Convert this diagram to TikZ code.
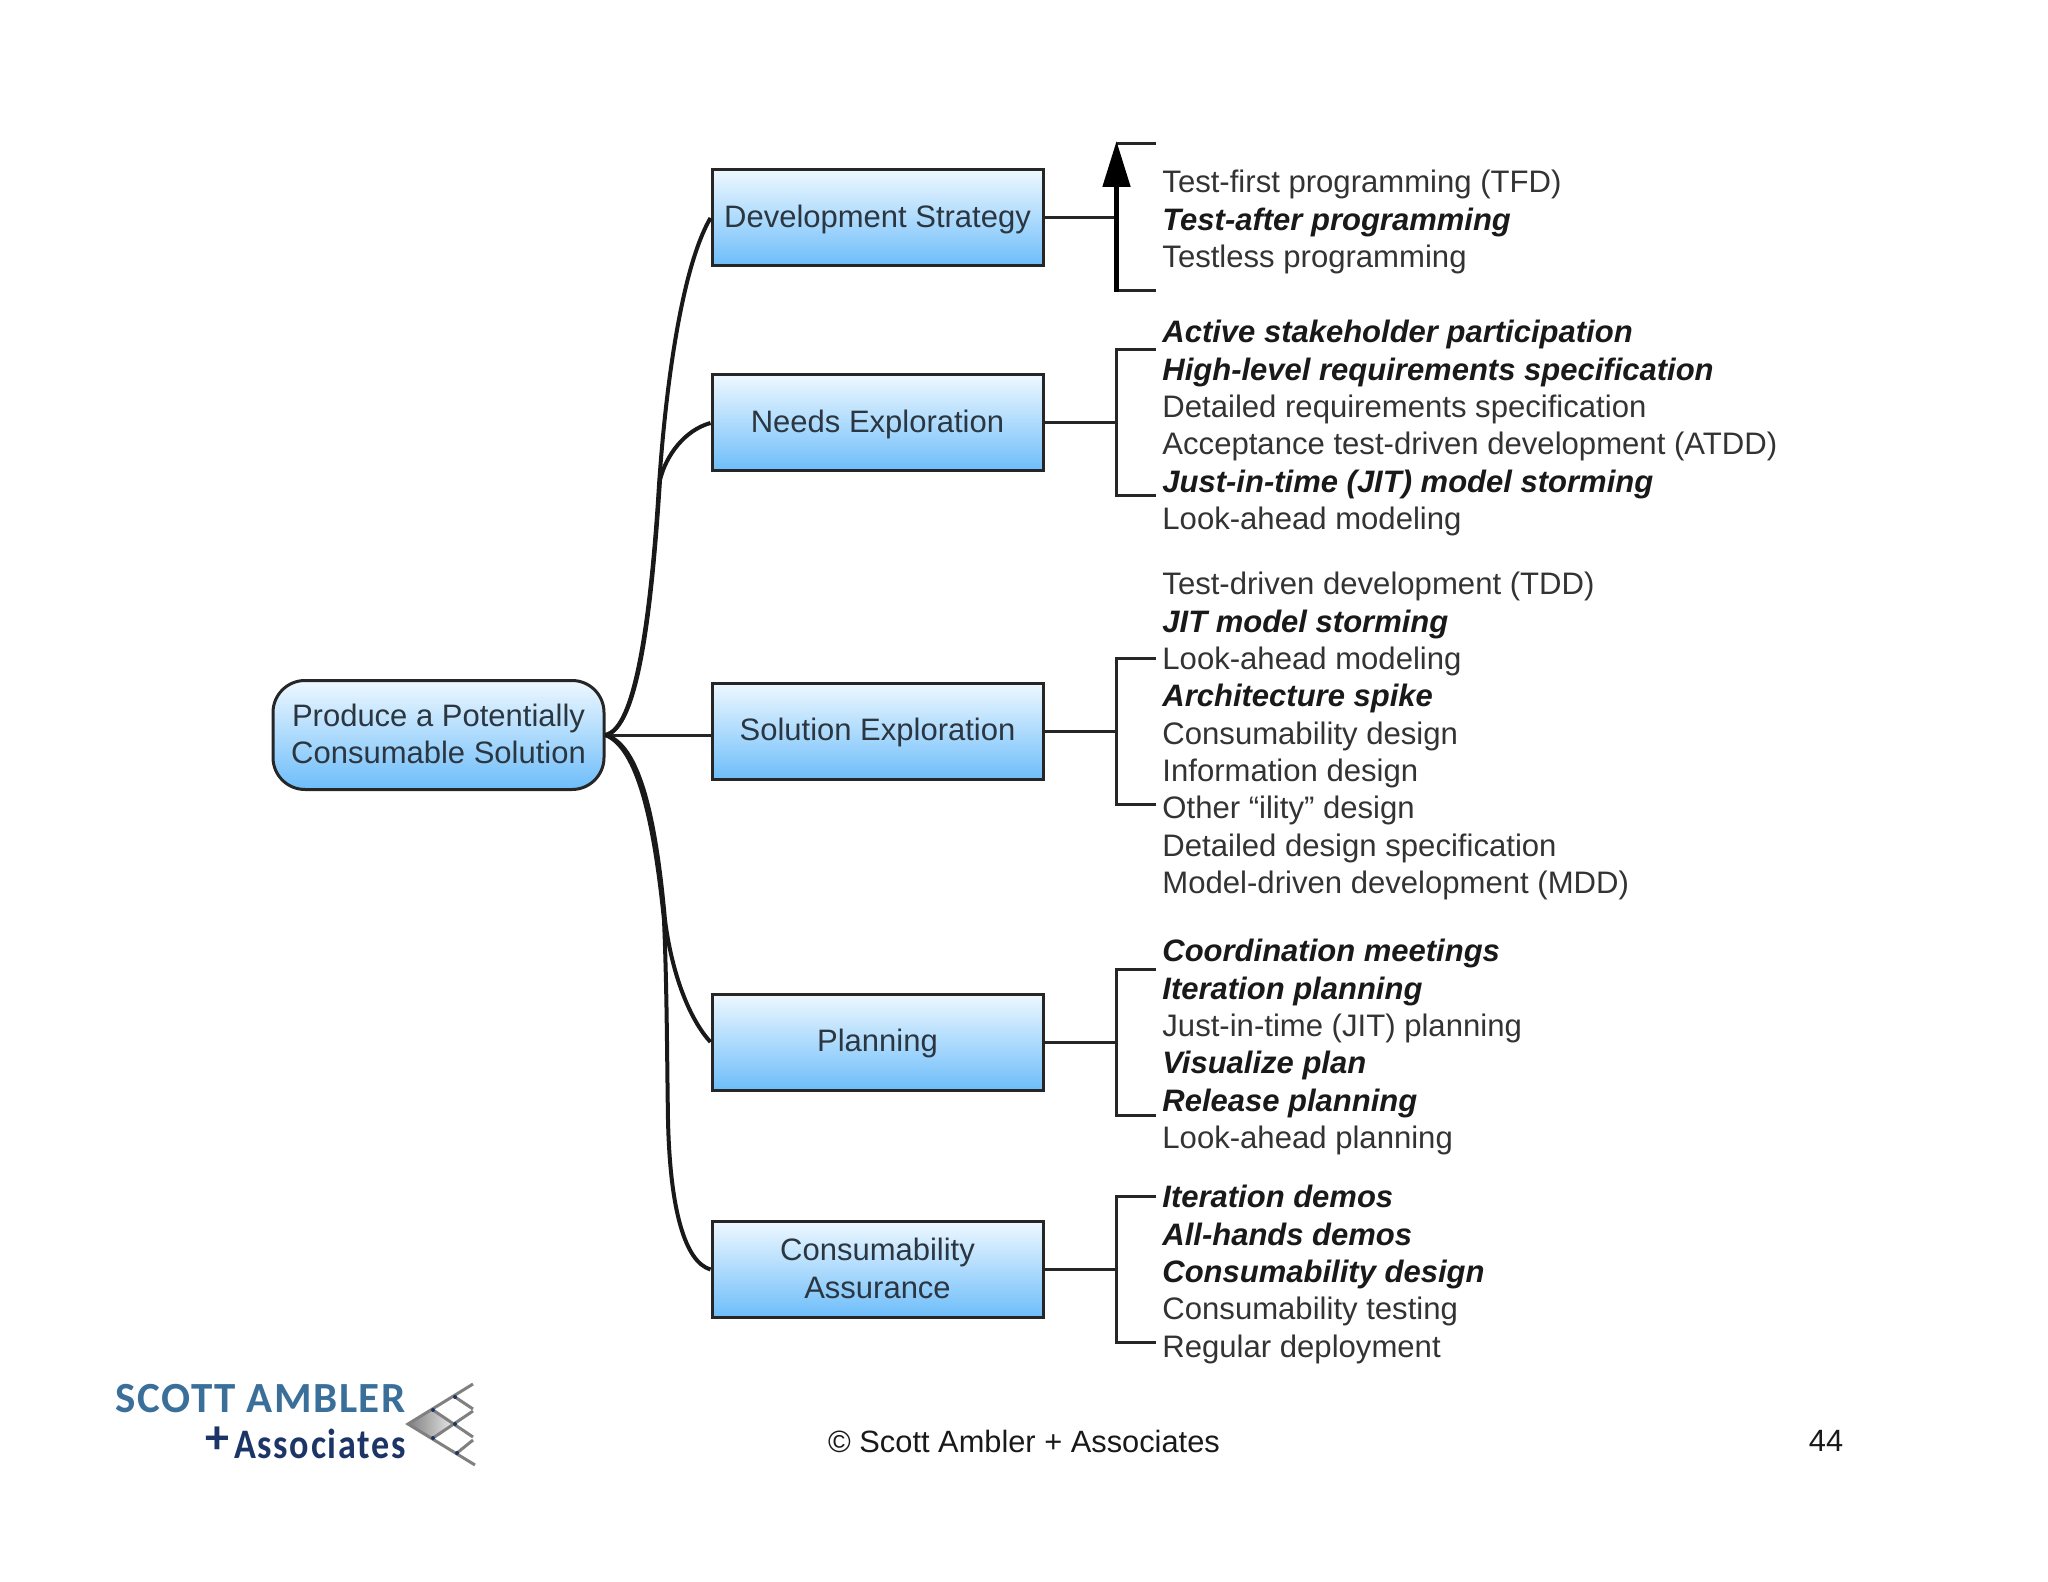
\documentclass[tikz,border=0pt]{standalone}
\usepackage{fontspec}
\setmainfont{Liberation Sans}
\newfontfamily\logofont[LetterSpace=3.5]{Carlito}
\newfontfamily\logoassocfont[FakeStretch=0.86,LetterSpace=4]{Carlito}
\usetikzlibrary{arrows.meta}
\definecolor{inktext}{HTML}{2B3640}
\definecolor{listtext}{HTML}{333333}
\definecolor{boxtop}{HTML}{EEF8FF}
\definecolor{boxbottom}{HTML}{6DBDFA}
\definecolor{logoblue}{HTML}{3A6F9A}
\definecolor{logonavy}{HTML}{1D3566}
\newcommand{\kp}[1]{{\fontsize{15.5}{18.67}\selectfont\bfseries\itshape\color{black!90}#1}}
\newcommand{\up}[1]{\raisebox{1.3pt}{#1}}
\tikzstyle{block} = [draw=black!85, line width=1.5pt, rectangle, top color=boxtop, bottom color=boxbottom, minimum width=165.5pt, minimum height=48pt, align=center, text=inktext, font=\fontsize{15.5}{18.6}\selectfont, inner sep=0pt]
\tikzstyle{oneline} = [block, text height=12.5pt, text depth=3.2pt]
\tikzstyle{rootblock} = [block, rounded corners=16pt, minimum width=165.5pt, minimum height=54.5pt]
\tikzstyle{branch} = [draw=black!90, line width=2pt]
\tikzstyle{line} = [draw=black!85, line width=1.5pt]
\tikzstyle{practices} = [anchor=north west, align=left, inner sep=0pt, text=listtext, font=\fontsize{15.55}{18.67}\selectfont]
\tikzstyle{logoline} = [draw=black!50, line width=1.5pt]
\begin{document}
\begin{tikzpicture}[node distance=100pt, x=0.5pt, y=-0.5pt]
    \useasboundingbox (0,0) rectangle (2048,1582);
    % Place nodes
    \node [rootblock] (root) at (438.5,735) {\up{Produce a Potentially}\\\up{Consumable Solution}};
    \node [oneline, right of = root, xshift=119.5pt, yshift=1.75pt] (solution) {Solution Exploration};
    \node [oneline, above of = solution, yshift=54.25pt] (needs) {Needs Exploration};
    \node [oneline, above of = needs, yshift=2.5pt] (devstrategy) {Development Strategy};
    \node [oneline, below of = solution, yshift=-55.25pt] (planning) {Planning};
    \node [block, below of = planning, yshift=-13.75pt] (consum) {\up{Consumability}\\\up{Assurance}};

    % Practice lists
    \node [practices] (devlist) at (1162,170) {Test-first programming (TFD)\\\kp{Test-after programming}\\Testless programming};
    \node [practices] (needslist) at (1162,320) {\kp{Active stakeholder participation}\\\kp{High-level requirements specification}\\Detailed requirements specification\\Acceptance test-driven development (ATDD)\\\kp{Just-in-time (JIT) model storming}\\Look-ahead modeling};
    \node [practices] (solutionlist) at (1162,572) {Test-driven development (TDD)\\\kp{JIT model storming}\\Look-ahead modeling\\\kp{Architecture spike}\\Consumability design\\Information design\\Other “ility” design\\Detailed design specification\\Model-driven development (MDD)};
    \node [practices] (planninglist) at (1162,939) {\kp{Coordination meetings}\\\kp{Iteration planning}\\Just-in-time (JIT) planning\\\kp{Visualize plan}\\\kp{Release planning}\\Look-ahead planning};
    \node [practices] (consumlist) at (1162,1185) {\kp{Iteration demos}\\\kp{All-hands demos}\\\kp{Consumability design}\\Consumability testing\\Regular deployment};

    % Draw edges
    \path [branch] (root.east) .. controls (635,730) and (650,620) .. (658,501) .. controls (664,400) and (680,270) .. (devstrategy.west);
    \path [branch] (root.east) .. controls (637,728) and (651,620) .. (660,480) .. controls (666,455) and (685,430) .. (needs.west);
    \path [line] (root.east) -- (root.east -| solution.west);
    \path [branch] (root.east) .. controls (640,745) and (656,820) .. (665,920) .. controls (672,975) and (690,1020) .. (planning.west);
    \path [branch] (root.east) .. controls (638,748) and (654,822) .. (664,920) .. controls (667,990) and (667,1060) .. (668,1120) .. controls (670,1210) and (685,1262) .. (consum.west);

    % Brackets
    \foreach \name in {devstrategy,needs,solution,planning,consum}
        \path [line] (\name.east) -- ++(72,0) coordinate (\name join);
    \foreach \name in {needs,solution,planning,consum}
        \path [line] (\name join) ++(39,-73) -- ++(-39,0) -- ++(0,146) -- ++(39,0);
    \path [line] (devstrategyjoin) ++(39,-74) -- ++(-39,0);
    \path [line] (devstrategyjoin) ++(39,73) -- ++(-39,0);
    \draw [line width=2.5pt, -{Triangle[width=13.5pt, length=23pt]}] (devstrategyjoin) ++(0,74) -- ++(0,-151);

    % Footer
    \node [font=\fontsize{15.4}{18}\selectfont, text=black!90] (footer) at (1024,1441) {© Scott Ambler + Associates};
    \node [font=\fontsize{15.4}{18}\selectfont, text=black!90] (pagenum) at (1826,1441) {44};

    % Logo
    \node [anchor=base east, inner sep=0pt, text=logoblue, font=\logofont\bfseries\fontsize{21.5}{24}\selectfont] (logoname) at (406,1412) {SCOTT AMBLER};
    \node [anchor=base east, inner sep=0pt, text=logonavy, font=\logoassocfont\bfseries\fontsize{21}{24}\selectfont] (logoassoc) at (406,1458) {Associates};
    \node [anchor=center, inner sep=0pt, text=logonavy, font=\logofont\bfseries\fontsize{24}{24}\selectfont] (logoplus) at (217,1440) {+};
    \shade [left color=black!50, right color=black!8, shading angle=90] (408,1424) -- (433,1410) -- (455,1424) -- (433,1438) -- cycle;
    \path [logoline] (473,1384) -- (408,1424) -- (475,1465);
    \path [logoline] (433,1410) -- (473,1437);
    \path [logoline] (455,1397) -- (473,1409);
    \path [logoline] (433,1438) -- (473,1411);
    \path [logoline] (457,1453) -- (473,1440);
    \foreach \px/\py in {433/1410, 455/1397, 455/1424, 433/1438, 457/1453}
        \fill [logonavy] (\px,\py) circle (1pt);
\end{tikzpicture}
\end{document}
